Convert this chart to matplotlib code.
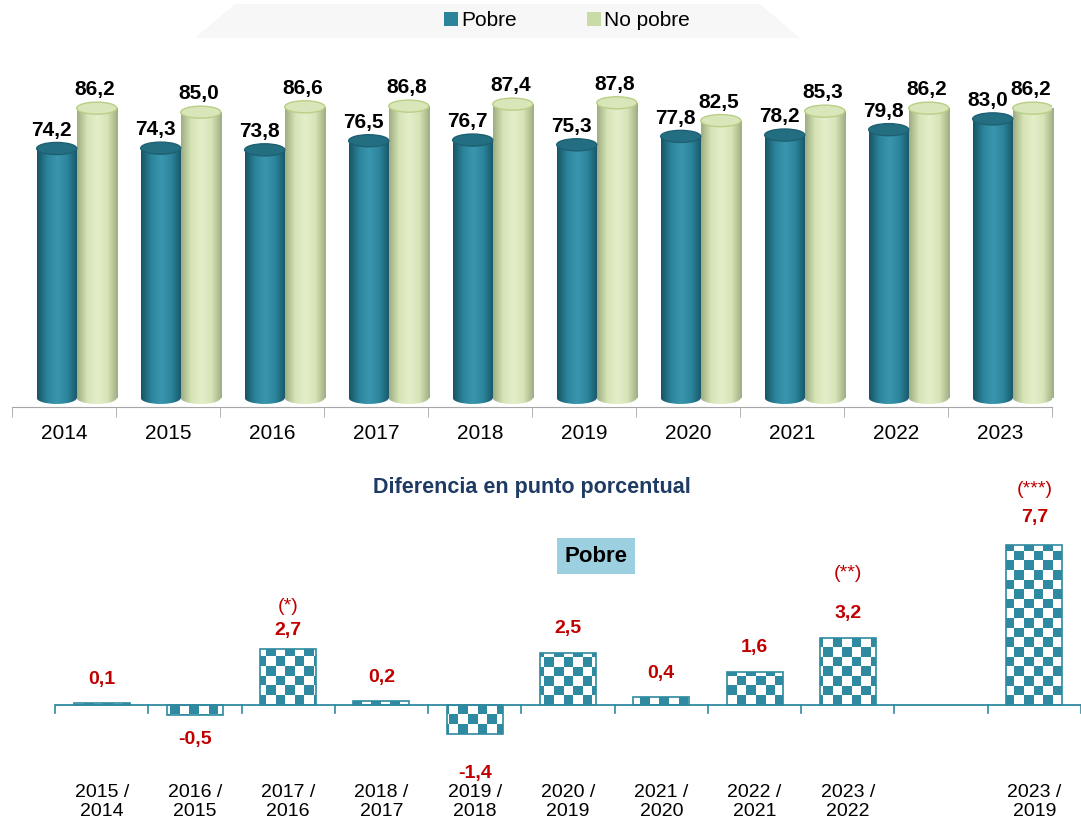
import numpy as np
import matplotlib
matplotlib.use("Agg")
import matplotlib.pyplot as plt
from matplotlib.patches import Rectangle, Ellipse, Polygon
from matplotlib.colors import LinearSegmentedColormap

plt.rcParams['font.family'] = ['Liberation Sans', 'DejaVu Sans']

# Porcentaje por año
years = ['2014', '2015', '2016', '2017', '2018', '2019', '2020', '2021', '2022', '2023']
pobre = [74.2, 74.3, 73.8, 76.5, 76.7, 75.3, 77.8, 78.2, 79.8, 83.0]
no_pobre = [86.2, 85.0, 86.6, 86.8, 87.4, 87.8, 82.5, 85.3, 86.2, 86.2]

# Diferencia en punto porcentual (Pobre)
periods = ['2015 /\n2014', '2016 /\n2015', '2017 /\n2016', '2018 /\n2017', '2019 /\n2018',
           '2020 /\n2019', '2021 /\n2020', '2022 /\n2021', '2023 /\n2022', '', '2023 /\n2019']
diff = [0.1, -0.5, 2.7, 0.2, -1.4, 2.5, 0.4, 1.6, 3.2, None, 7.7]
signif = ['', '', '(*)', '', '', '', '', '', '(**)', '', '(***)']
# label distances from the bar end, in pixels
label_pad = [23, 24, 18, 23, 39, 24, 23, 24, 25, 0, 27]
signif_pad = [0, 0, 42, 0, 0, 0, 0, 0, 65, 0, 55]

TEAL = '#2F8AA1'
RED = '#C00000'

W, H = 1081, 823
fig = plt.figure(figsize=(W / 100, H / 100), dpi=100)


def fig_rect(x0, y0, x1, y1):
    return [x0 / W, 1 - y1 / H, (x1 - x0) / W, (y1 - y0) / H]


# faint band behind the legend
band = Polygon([(195 / W, 1 - 38 / H), (235 / W, 1 - 4 / H), (760 / W, 1 - 4 / H), (800 / W, 1 - 38 / H)],
               closed=True, transform=fig.transFigure, facecolor='#F7F7F7', edgecolor='none', zorder=0)
fig.patches.append(band)


def cylinder(ax, x, w, top, edge, mid, light, cap, cap_edge, cap_h):
    cmap = LinearSegmentedColormap.from_list('cyl', [edge, mid, light, mid, edge])
    grad = np.linspace(0, 1, 64).reshape(1, -1)
    rect = Rectangle((x - w / 2, 0), w, top, transform=ax.transData)
    im = ax.imshow(grad, cmap=cmap, extent=(x - w / 2, x + w / 2, 0, top),
                   aspect='auto', zorder=2, interpolation='bicubic')
    im.set_clip_path(rect)
    bottom = Ellipse((x, 0), w, cap_h, transform=ax.transData)
    im2 = ax.imshow(grad, cmap=cmap, extent=(x - w / 2, x + w / 2, -cap_h / 2, cap_h / 2),
                    aspect='auto', zorder=2, interpolation='bicubic')
    im2.set_clip_path(bottom)
    ax.add_patch(Ellipse((x, top), w, cap_h, facecolor=cap, edgecolor=cap_edge, lw=1.0, zorder=3))


# ---- top chart: cylinders ----
ax1 = fig.add_axes(fig_rect(12, 50, 1052, 407))
xs = np.arange(len(years))
bw = 0.385
cap_h = 3.6
for i in xs:
    xp = i - 0.07
    xn = i + 0.315
    cylinder(ax1, xp, bw, pobre[i], '#175566', '#2C849B', '#3A97AE', '#246E81', '#1E6072', cap_h)
    cylinder(ax1, xn, bw, no_pobre[i], '#9FAE82', '#D6E4B6', '#E4EFCB', '#D9E6BA', '#B9CF86', cap_h)
    ax1.annotate(f'{pobre[i]:.1f}'.replace('.', ','), (xp - 0.05, pobre[i] + cap_h / 2),
                 xytext=(0, 2), textcoords='offset points', ha='center', va='bottom',
                 fontsize=15, fontweight='bold', zorder=5)
    ax1.annotate(f'{no_pobre[i]:.1f}'.replace('.', ','), (xn - 0.02, no_pobre[i] + cap_h / 2),
                 xytext=(0, 2), textcoords='offset points', ha='center', va='bottom',
                 fontsize=15, fontweight='bold', zorder=5)

ax1.set_xlim(-0.5, len(years) - 0.5)
ax1.set_ylim(-2.7, 103.5)
for s in ['top', 'right', 'left']:
    ax1.spines[s].set_visible(False)
ax1.spines['bottom'].set_color('#A6A6A6')
ax1.set_yticks([])
ax1.set_xticks(xs)
ax1.set_xticklabels(years, fontsize=15)
ax1.tick_params(axis='x', length=0, pad=12)
ax1.set_xticks(np.arange(-0.5, len(years)), minor=True)
ax1.tick_params(axis='x', which='minor', length=7, color='#A6A6A6', direction='out')

handles = [Rectangle((0, 0), 1, 1, facecolor='#2C849B'), Rectangle((0, 0), 1, 1, facecolor='#C9DCA6')]
fig.legend(handles, ['Pobre', 'No pobre'], loc='center', bbox_to_anchor=(567 / W, 1 - 21 / H),
           ncol=2, frameon=False, handlelength=0.65, handleheight=0.65, handletextpad=0.15,
           columnspacing=3.4, prop={'size': 15})

# ---- bottom chart: differences ----
fig.text(532 / W, 1 - 487 / H, 'Diferencia en punto porcentual', ha='center', va='center',
         fontsize=15.5, fontweight='bold', color='#1F3B64')
fig.text(596 / W, 1 - 556 / H, 'Pobre', ha='center', va='center', fontsize=16, fontweight='bold',
         bbox=dict(boxstyle='square,pad=0.35', facecolor='#9CD0E0', edgecolor='none'))

ax2 = fig.add_axes(fig_rect(55, 528, 1081, 760))
n = len(periods)
ax2.set_xlim(-0.5, n - 0.5)
ymin, ymax = -(760 - 705) / 20.8, (705 - 528) / 20.8
ax2.set_ylim(ymin, ymax)
ax2.axis('off')

# checkerboard texture laid over the whole axes, clipped to each bar
cell_px = 9.6
ncol = int(np.ceil(1026 / cell_px))
nrow_up = int(np.ceil((705 - 528) / cell_px))
nrow_dn = int(np.ceil((760 - 705) / cell_px))
dx = cell_px / 93.3
dy = cell_px / 20.8
board = (np.indices((nrow_up + nrow_dn, ncol)).sum(axis=0) % 2)
board_cmap = LinearSegmentedColormap.from_list('chk', ['white', TEAL])
extent = (-0.5, -0.5 + ncol * dx, -nrow_dn * dy, nrow_up * dy)

bw2 = 0.6
for i, v in enumerate(diff):
    if v is None:
        continue
    rect = Rectangle((i - bw2 / 2, min(0, v)), bw2, abs(v), facecolor='none',
                     edgecolor=TEAL, lw=1.2, zorder=3)
    ax2.add_patch(rect)
    im = ax2.imshow(board, cmap=board_cmap, extent=extent, origin='upper',
                    aspect='auto', interpolation='nearest', zorder=2)
    im.set_clip_path(rect)
    lbl = f'{v:.1f}'.replace('.', ',')
    sign = 1 if v >= 0 else -1
    ax2.annotate(lbl, (i, v), xytext=(0, sign * label_pad[i]), textcoords='offset pixels',
                 ha='center', va='center', fontsize=14, fontweight='bold', color=RED)
    if signif[i]:
        ax2.annotate(signif[i], (i, v), xytext=(0, signif_pad[i]), textcoords='offset pixels',
                     ha='center', va='center', fontsize=14, color=RED)

ax2.axhline(0, color=TEAL, lw=1.3, zorder=4)
for b in np.arange(-0.5, n):
    ax2.plot([b, b], [0, -8 / 20.8], color=TEAL, lw=1.2, clip_on=False, zorder=4)
for i, p in enumerate(periods):
    if p:
        ax2.text(i, -(802 - 705) / 20.8, p, ha='center', va='center', fontsize=14,
                 linespacing=1.15, clip_on=False)

fig.savefig('out.png', dpi=100)
